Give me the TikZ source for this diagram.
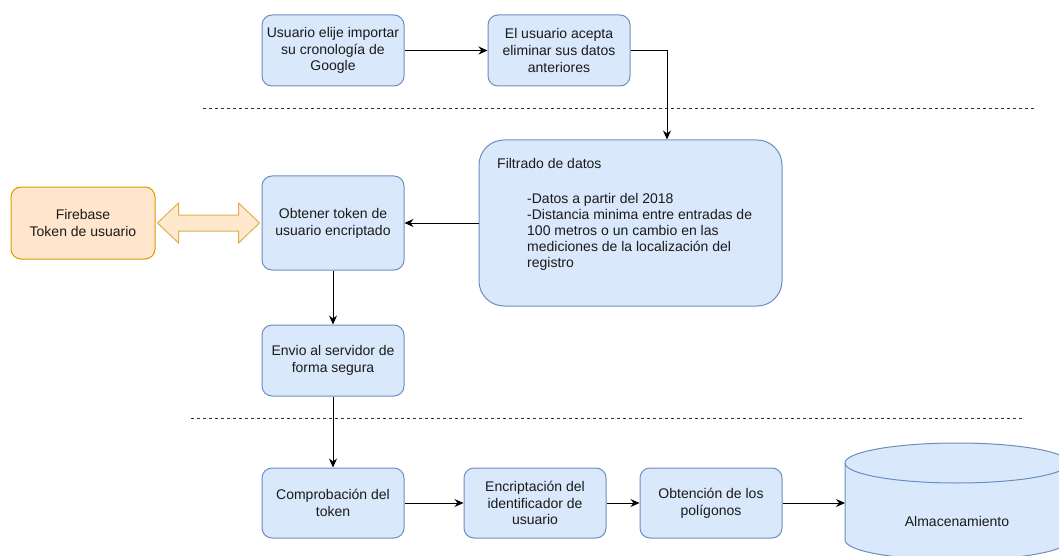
\documentclass[tikz,border=0pt]{standalone}
\usepackage{fontspec}
\setmainfont{Liberation Sans}
\usetikzlibrary{arrows.meta,calc}
\definecolor{bfill}{HTML}{DAE8FC}
\definecolor{bdraw}{HTML}{6C8EBF}
\definecolor{ofill}{HTML}{FFE6CC}
\definecolor{odraw}{HTML}{D79B00}
\definecolor{afill}{HTML}{FFE9CC}
\definecolor{adraw}{HTML}{E0B050}
\definecolor{txt}{HTML}{1A1A1A}
\tikzset{
  bluebox/.style={draw=bdraw,fill=bfill,line width=1pt,rounded corners=10pt,
    minimum width=142pt,minimum height=71pt,inner sep=0pt,align=center,
    text=txt,font=\fontsize{14}{16.8}\selectfont},
  orangebox/.style={bluebox,draw=odraw,fill=ofill},
  conn/.style={line width=1pt,-{Stealth[length=9pt,width=8pt,inset=3pt]}},
  sep/.style={line width=1pt,draw=black!80,dash pattern=on 3pt off 3pt},
  plain/.style={text=txt,font=\fontsize{14}{16.8}\selectfont,inner sep=0pt},
}
\begin{document}
\begin{tikzpicture}[x=1pt,y=-1pt]
\useasboundingbox (0,0) rectangle (1059,556);
% top row
\node[bluebox] (A) at (333,50.5) {Usuario elije importar\\su cronología de\\Google};
\node[bluebox] (B) at (559,50.5) {El usuario acepta\\eliminar sus datos\\anteriores};
% separators
\coordinate (d1a) at (203,109); \coordinate (d1b) at (1035,109);
\coordinate (d2a) at (191,418); \coordinate (d2b) at (1022,418);
\draw[sep] (d1a) -- (d1b);
\draw[sep] (d2a) -- (d2b);
% middle
\node[bluebox,rounded corners=25pt,minimum width=303pt,minimum height=166pt] (F) at (630.5,223) {};
\node[plain,anchor=base west] (Ft) at (497,168) {Filtrado de datos};
\node[plain,anchor=base west,align=left,font=\fontsize{14}{16}\selectfont] (Fb) at (527,267)
  {-Datos a partir del 2018\\-Distancia minima entre entradas de\\100 metros o un cambio en las\\mediciones de la localización del\\registro};
\node[bluebox,minimum height=94pt] (O) at (333,223) {Obtener token de\\usuario encriptado};
\node[orangebox,minimum width=144pt,minimum height=72pt] (FB) at (83,223) {Firebase\\Token de usuario};
\node[bluebox] (E) at (333,360.5) {Envio al servidor de\\forma segura};
% bottom row
\node[bluebox,minimum height=70pt] (C) at (333,503) {Comprobación del\\token};
\node[bluebox,minimum height=70pt] (En) at (535,503) {Encriptación del\\identificador de\\usuario};
\node[bluebox,minimum height=70pt] (Ob) at (711,503) {Obtención de los\\polígonos};
% cylinder
\begin{scope}
\clip (0,0) rectangle (1059,556);
\draw[draw=bdraw,fill=bfill,line width=1pt] (845,463) -- (845,540)
  arc[start angle=180,end angle=0,x radius=112,y radius=20] -- (1069,463)
  arc[start angle=0,end angle=-180,x radius=112,y radius=20] -- cycle;
\draw[draw=bdraw,line width=1pt] (845,463) arc[start angle=180,end angle=0,x radius=112,y radius=20];
\end{scope}
\node[plain] (S) at (957,521) {Almacenamiento};
\coordinate (Sin) at (845,503);
% double arrow
\path (FB.east) ++(2,0) coordinate (t1);
\path (O.west) ++(-2,0) coordinate (t2);
\draw[draw=adraw,fill=afill,line width=1pt,line join=miter]
  (t1) -- ++(21,-20) -- ++(0,12) -- ($(t2)+(-21,-8)$) -- ++(0,-12) -- (t2)
  -- ++(-21,20) -- ++(0,-12) -- ($(t1)+(21,8)$) -- ++(0,12) -- cycle;
% connectors
\draw[conn] (A) -- (B);
\draw[conn] (B.east) -| ([xshift=36.5pt]F.north);
\draw[conn] (F.west) -- (O.east);
\draw[conn] (O) -- (E);
\draw[conn] (E) -- (C);
\draw[conn] (C) -- (En);
\draw[conn] (En) -- (Ob);
\draw[conn] (Ob.east) -- (Sin);
\end{tikzpicture}
\end{document}
